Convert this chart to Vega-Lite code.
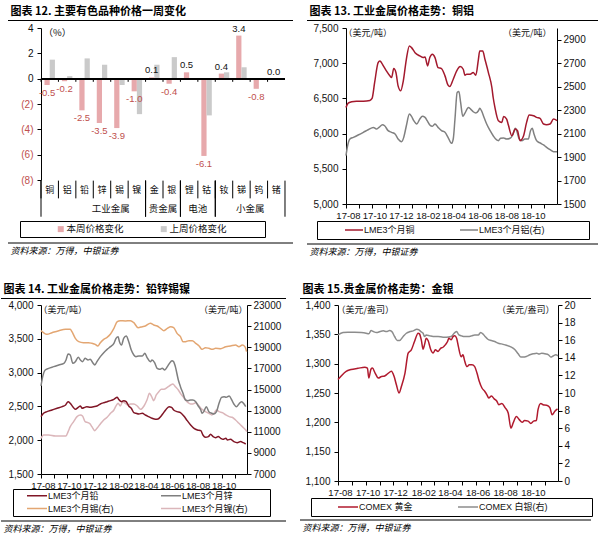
{
"$schema": "https://vega.github.io/schema/vega-lite/v6.json",
"background": "white",
"padding": {"left": 0, "top": 6, "right": 4, "bottom": 2},
"config": {
  "font": "Liberation Sans",
  "view": {"stroke": null},
  "axis": {"labelFont": "Liberation Sans", "labelFontSize": 10, "labelColor": "#111", "domainColor": "#000", "tickColor": "#000", "grid": false, "tickSize": 4, "labelPadding": 4, "labelOverlap": false, "titleFont": "Noto Sans CJK SC", "titleFontWeight": "normal", "titleFontSize": 9, "titleColor": "#111"},
  "legend": {"labelFont": "Liberation Sans, Noto Sans CJK SC, DejaVu Sans", "labelFontSize": 9, "labelColor": "#111", "strokeColor": "#000", "titleFont": "Noto Sans CJK SC", "titleFontSize": 9, "titleOrient": "left"},
  "title": {"font": "Noto Sans CJK SC", "color": "#000"},
  "locale": {"number": {"decimal": ".", "thousands": ",", "grouping": [3], "currency": ["$", ""], "minus": "-"}}
},
"datasets": {
  "p12": [
    {"cat":"铜","series":"本周价格变化","value":-0.5},{"cat":"铜","series":"上周价格变化","value":1.5},
    {"cat":"铝","series":"本周价格变化","value":-0.2},{"cat":"铝","series":"上周价格变化","value":0.2},
    {"cat":"铅","series":"本周价格变化","value":-2.5},{"cat":"铅","series":"上周价格变化","value":1.6},
    {"cat":"锌","series":"本周价格变化","value":-3.5},{"cat":"锌","series":"上周价格变化","value":1.1},
    {"cat":"锡","series":"本周价格变化","value":-3.9},{"cat":"锡","series":"上周价格变化","value":-0.5},
    {"cat":"镍","series":"本周价格变化","value":-1.0},{"cat":"镍","series":"上周价格变化","value":-2.8},
    {"cat":"金","series":"本周价格变化","value":0.1},{"cat":"金","series":"上周价格变化","value":1.1},
    {"cat":"银","series":"本周价格变化","value":-0.4},{"cat":"银","series":"上周价格变化","value":1.7},
    {"cat":"锂","series":"本周价格变化","value":0.5},{"cat":"锂","series":"上周价格变化","value":0.0},
    {"cat":"钴","series":"本周价格变化","value":-6.1},{"cat":"钴","series":"上周价格变化","value":-2.9},
    {"cat":"钕","series":"本周价格变化","value":0.4},{"cat":"钕","series":"上周价格变化","value":0.5},
    {"cat":"锑","series":"本周价格变化","value":3.4},{"cat":"锑","series":"上周价格变化","value":0.9},
    {"cat":"钨","series":"本周价格变化","value":-0.8},{"cat":"钨","series":"上周价格变化","value":-0.1},
    {"cat":"锗","series":"本周价格变化","value":0.0},{"cat":"锗","series":"上周价格变化","value":0.0}
  ],
  "grp": [
    {"group":"工业金属","first":"铜","last":"镍","mid":"锡"},
    {"group":"贵金属","first":"金","last":"银","mid":"银"},
    {"group":"电池","first":"锂","last":"钴","mid":"钴"},
    {"group":"小金属","first":"钕","last":"锗","mid":"钨"}
  ],
  "p13": [
    {"d":"2017-08-01","s":"LME3个月铜","v":6372},{"d":"2017-08-06","s":"LME3个月铜","v":6433},{"d":"2017-08-14","s":"LME3个月铜","v":6452},{"d":"2017-08-25","s":"LME3个月铜","v":6461},{"d":"2017-09-10","s":"LME3个月铜","v":6461},{"d":"2017-09-25","s":"LME3个月铜","v":6471},{"d":"2017-09-30","s":"LME3个月铜","v":6499},{"d":"2017-10-06","s":"LME3个月铜","v":6726},{"d":"2017-10-14","s":"LME3个月铜","v":7009},{"d":"2017-10-18","s":"LME3个月铜","v":7032},{"d":"2017-10-26","s":"LME3个月铜","v":6962},{"d":"2017-11-02","s":"LME3个月铜","v":6891},{"d":"2017-11-10","s":"LME3个月铜","v":6820},{"d":"2017-11-14","s":"LME3个月铜","v":6796},{"d":"2017-11-19","s":"LME3个月铜","v":6924},{"d":"2017-11-24","s":"LME3个月铜","v":6867},{"d":"2017-11-29","s":"LME3个月铜","v":6678},{"d":"2017-12-05","s":"LME3个月铜","v":6608},{"d":"2017-12-11","s":"LME3个月铜","v":6749},{"d":"2017-12-18","s":"LME3个月铜","v":7056},{"d":"2017-12-25","s":"LME3个月铜","v":7245},{"d":"2017-12-30","s":"LME3个月铜","v":7221},{"d":"2018-01-07","s":"LME3个月铜","v":7150},{"d":"2018-01-18","s":"LME3个月铜","v":7103},{"d":"2018-01-26","s":"LME3个月铜","v":7080},{"d":"2018-01-30","s":"LME3个月铜","v":7089},{"d":"2018-02-05","s":"LME3个月铜","v":6962},{"d":"2018-02-10","s":"LME3个月铜","v":7080},{"d":"2018-02-16","s":"LME3个月铜","v":7127},{"d":"2018-02-22","s":"LME3个月铜","v":7080},{"d":"2018-03-01","s":"LME3个月铜","v":6938},{"d":"2018-03-09","s":"LME3个月铜","v":6924},{"d":"2018-03-17","s":"LME3个月铜","v":6820},{"d":"2018-03-24","s":"LME3个月铜","v":6688},{"d":"2018-03-28","s":"LME3个月铜","v":6669},{"d":"2018-04-05","s":"LME3个月铜","v":6773},{"d":"2018-04-13","s":"LME3个月铜","v":6891},{"d":"2018-04-21","s":"LME3个月铜","v":6952},{"d":"2018-04-28","s":"LME3个月铜","v":6914},{"d":"2018-05-02","s":"LME3个月铜","v":6829},{"d":"2018-05-06","s":"LME3个月铜","v":6844},{"d":"2018-05-14","s":"LME3个月铜","v":6844},{"d":"2018-05-21","s":"LME3个月铜","v":6867},{"d":"2018-05-27","s":"LME3个月铜","v":6829},{"d":"2018-06-02","s":"LME3个月铜","v":7056},{"d":"2018-06-05","s":"LME3个月铜","v":7174},{"d":"2018-06-12","s":"LME3个月铜","v":7174},{"d":"2018-06-17","s":"LME3个月铜","v":7056},{"d":"2018-06-25","s":"LME3个月铜","v":6867},{"d":"2018-07-03","s":"LME3个月铜","v":6655},{"d":"2018-07-06","s":"LME3个月铜","v":6513},{"d":"2018-07-10","s":"LME3个月铜","v":6372},{"d":"2018-07-18","s":"LME3个月铜","v":6183},{"d":"2018-07-26","s":"LME3个月铜","v":6159},{"d":"2018-07-30","s":"LME3个月铜","v":6244},{"d":"2018-08-06","s":"LME3个月铜","v":6206},{"d":"2018-08-10","s":"LME3个月铜","v":6121},{"d":"2018-08-18","s":"LME3个月铜","v":5970},{"d":"2018-08-26","s":"LME3个月铜","v":6065},{"d":"2018-08-31","s":"LME3个月铜","v":6041},{"d":"2018-09-06","s":"LME3个月铜","v":5900},{"d":"2018-09-14","s":"LME3个月铜","v":5970},{"d":"2018-09-21","s":"LME3个月铜","v":6159},{"d":"2018-09-27","s":"LME3个月铜","v":6263},{"d":"2018-10-07","s":"LME3个月铜","v":6254},{"d":"2018-10-14","s":"LME3个月铜","v":6230},{"d":"2018-10-22","s":"LME3个月铜","v":6216},{"d":"2018-10-30","s":"LME3个月铜","v":6136},{"d":"2018-11-06","s":"LME3个月铜","v":6126},{"d":"2018-11-14","s":"LME3个月铜","v":6136},{"d":"2018-11-22","s":"LME3个月铜","v":6206},{"d":"2018-11-30","s":"LME3个月铜","v":6183},
    {"d":"2017-08-01","s":"LME3个月铝(右)","v":1913},{"d":"2017-08-04","s":"LME3个月铝(右)","v":1983},{"d":"2017-08-10","s":"LME3个月铝(右)","v":2054},{"d":"2017-08-18","s":"LME3个月铝(右)","v":2068},{"d":"2017-08-29","s":"LME3个月铝(右)","v":2088},{"d":"2017-09-10","s":"LME3个月铝(右)","v":2111},{"d":"2017-09-21","s":"LME3个月铝(右)","v":2133},{"d":"2017-10-03","s":"LME3个月铝(右)","v":2153},{"d":"2017-10-10","s":"LME3个月铝(右)","v":2139},{"d":"2017-10-16","s":"LME3个月铝(右)","v":2153},{"d":"2017-10-24","s":"LME3个月铝(右)","v":2176},{"d":"2017-10-29","s":"LME3个月铝(右)","v":2167},{"d":"2017-11-06","s":"LME3个月铝(右)","v":2125},{"d":"2017-11-14","s":"LME3个月铝(右)","v":2111},{"d":"2017-11-22","s":"LME3个月铝(右)","v":2097},{"d":"2017-11-29","s":"LME3个月铝(右)","v":2054},{"d":"2017-12-07","s":"LME3个月铝(右)","v":2031},{"d":"2017-12-12","s":"LME3个月铝(右)","v":2068},{"d":"2017-12-18","s":"LME3个月铝(右)","v":2167},{"d":"2017-12-25","s":"LME3个月铝(右)","v":2267},{"d":"2017-12-30","s":"LME3个月铝(右)","v":2247},{"d":"2018-01-04","s":"LME3个月铝(右)","v":2210},{"d":"2018-01-11","s":"LME3个月铝(右)","v":2182},{"d":"2018-01-18","s":"LME3个月铝(右)","v":2224},{"d":"2018-01-24","s":"LME3个月铝(右)","v":2247},{"d":"2018-01-30","s":"LME3个月铝(右)","v":2238},{"d":"2018-02-04","s":"LME3个月铝(右)","v":2210},{"d":"2018-02-10","s":"LME3个月铝(右)","v":2173},{"d":"2018-02-16","s":"LME3个月铝(右)","v":2162},{"d":"2018-02-22","s":"LME3个月铝(右)","v":2182},{"d":"2018-03-01","s":"LME3个月铝(右)","v":2153},{"d":"2018-03-09","s":"LME3个月铝(右)","v":2125},{"d":"2018-03-17","s":"LME3个月铝(右)","v":2111},{"d":"2018-03-24","s":"LME3个月铝(右)","v":2068},{"d":"2018-04-01","s":"LME3个月铝(右)","v":2017},{"d":"2018-04-05","s":"LME3个月铝(右)","v":2054},{"d":"2018-04-09","s":"LME3个月铝(右)","v":2224},{"d":"2018-04-14","s":"LME3个月铝(右)","v":2451},{"d":"2018-04-18","s":"LME3个月铝(右)","v":2459},{"d":"2018-04-22","s":"LME3个月铝(右)","v":2366},{"d":"2018-04-27","s":"LME3个月铝(右)","v":2247},{"d":"2018-05-02","s":"LME3个月铝(右)","v":2275},{"d":"2018-05-10","s":"LME3个月铝(右)","v":2323},{"d":"2018-05-15","s":"LME3个月铝(右)","v":2309},{"d":"2018-05-21","s":"LME3个月铝(右)","v":2286},{"d":"2018-05-27","s":"LME3个月铝(右)","v":2275},{"d":"2018-06-02","s":"LME3个月铝(右)","v":2295},{"d":"2018-06-05","s":"LME3个月铝(右)","v":2315},{"d":"2018-06-09","s":"LME3个月铝(右)","v":2295},{"d":"2018-06-15","s":"LME3个月铝(右)","v":2238},{"d":"2018-06-21","s":"LME3个月铝(右)","v":2182},{"d":"2018-06-29","s":"LME3个月铝(右)","v":2125},{"d":"2018-07-06","s":"LME3个月铝(右)","v":2082},{"d":"2018-07-14","s":"LME3个月铝(右)","v":2046},{"d":"2018-07-18","s":"LME3个月铝(右)","v":2040},{"d":"2018-07-23","s":"LME3个月铝(右)","v":2060},{"d":"2018-07-30","s":"LME3个月铝(右)","v":2063},{"d":"2018-08-06","s":"LME3个月铝(右)","v":2054},{"d":"2018-08-14","s":"LME3个月铝(右)","v":2060},{"d":"2018-08-20","s":"LME3个月铝(右)","v":2088},{"d":"2018-08-26","s":"LME3个月铝(右)","v":2145},{"d":"2018-08-29","s":"LME3个月铝(右)","v":2125},{"d":"2018-09-04","s":"LME3个月铝(右)","v":2054},{"d":"2018-09-10","s":"LME3个月铝(右)","v":2040},{"d":"2018-09-17","s":"LME3个月铝(右)","v":2054},{"d":"2018-09-25","s":"LME3个月铝(右)","v":2054},{"d":"2018-09-30","s":"LME3个月铝(右)","v":2125},{"d":"2018-10-04","s":"LME3个月铝(右)","v":2145},{"d":"2018-10-08","s":"LME3个月铝(右)","v":2097},{"d":"2018-10-14","s":"LME3个月铝(右)","v":2040},{"d":"2018-10-22","s":"LME3个月铝(右)","v":2020},{"d":"2018-10-30","s":"LME3个月铝(右)","v":2003},{"d":"2018-11-06","s":"LME3个月铝(右)","v":1983},{"d":"2018-11-14","s":"LME3个月铝(右)","v":1963},{"d":"2018-11-22","s":"LME3个月铝(右)","v":1946},{"d":"2018-11-30","s":"LME3个月铝(右)","v":1946}
  ],
  "p14": [
    {"d":"2017-08-01","s":"LME3个月铅","v":2348},{"d":"2017-08-07","s":"LME3个月铅","v":2398},{"d":"2017-08-15","s":"LME3个月铅","v":2422},{"d":"2017-08-27","s":"LME3个月铅","v":2447},{"d":"2017-09-08","s":"LME3个月铅","v":2472},{"d":"2017-09-20","s":"LME3个月铅","v":2496},{"d":"2017-09-28","s":"LME3个月铅","v":2521},{"d":"2017-10-04","s":"LME3个月铅","v":2570},{"d":"2017-10-09","s":"LME3个月铅","v":2546},{"d":"2017-10-15","s":"LME3个月铅","v":2496},{"d":"2017-10-21","s":"LME3个月铅","v":2457},{"d":"2017-10-28","s":"LME3个月铅","v":2486},{"d":"2017-11-02","s":"LME3个月铅","v":2506},{"d":"2017-11-06","s":"LME3个月铅","v":2472},{"d":"2017-11-12","s":"LME3个月铅","v":2486},{"d":"2017-11-17","s":"LME3个月铅","v":2496},{"d":"2017-11-25","s":"LME3个月铅","v":2486},{"d":"2017-12-03","s":"LME3个月铅","v":2496},{"d":"2017-12-11","s":"LME3个月铅","v":2506},{"d":"2017-12-19","s":"LME3个月铅","v":2536},{"d":"2017-12-27","s":"LME3个月铅","v":2555},{"d":"2018-01-04","s":"LME3个月铅","v":2570},{"d":"2018-01-12","s":"LME3个月铅","v":2585},{"d":"2018-01-20","s":"LME3个月铅","v":2605},{"d":"2018-01-28","s":"LME3个月铅","v":2634},{"d":"2018-01-31","s":"LME3个月铅","v":2605},{"d":"2018-02-07","s":"LME3个月铅","v":2570},{"d":"2018-02-12","s":"LME3个月铅","v":2585},{"d":"2018-02-18","s":"LME3个月铅","v":2570},{"d":"2018-02-24","s":"LME3个月铅","v":2506},{"d":"2018-03-02","s":"LME3个月铅","v":2472},{"d":"2018-03-08","s":"LME3个月铅","v":2408},{"d":"2018-03-13","s":"LME3个月铅","v":2398},{"d":"2018-03-20","s":"LME3个月铅","v":2388},{"d":"2018-03-28","s":"LME3个月铅","v":2398},{"d":"2018-04-04","s":"LME3个月铅","v":2373},{"d":"2018-04-12","s":"LME3个月铅","v":2348},{"d":"2018-04-20","s":"LME3个月铅","v":2324},{"d":"2018-04-28","s":"LME3个月铅","v":2309},{"d":"2018-05-04","s":"LME3个月铅","v":2314},{"d":"2018-05-10","s":"LME3个月铅","v":2348},{"d":"2018-05-15","s":"LME3个月铅","v":2388},{"d":"2018-05-22","s":"LME3个月铅","v":2447},{"d":"2018-05-30","s":"LME3个月铅","v":2496},{"d":"2018-06-05","s":"LME3个月铅","v":2486},{"d":"2018-06-10","s":"LME3个月铅","v":2447},{"d":"2018-06-18","s":"LME3个月铅","v":2422},{"d":"2018-06-26","s":"LME3个月铅","v":2408},{"d":"2018-07-04","s":"LME3个月铅","v":2358},{"d":"2018-07-12","s":"LME3个月铅","v":2289},{"d":"2018-07-20","s":"LME3个月铅","v":2225},{"d":"2018-07-28","s":"LME3个月铅","v":2176},{"d":"2018-08-05","s":"LME3个月铅","v":2151},{"d":"2018-08-13","s":"LME3个月铅","v":2141},{"d":"2018-08-18","s":"LME3个月铅","v":2077},{"d":"2018-08-24","s":"LME3个月铅","v":2043},{"d":"2018-08-31","s":"LME3个月铅","v":2053},{"d":"2018-09-05","s":"LME3个月铅","v":2087},{"d":"2018-09-11","s":"LME3个月铅","v":2053},{"d":"2018-09-17","s":"LME3个月铅","v":2038},{"d":"2018-09-23","s":"LME3个月铅","v":2053},{"d":"2018-09-29","s":"LME3个月铅","v":2028},{"d":"2018-10-04","s":"LME3个月铅","v":2013},{"d":"2018-10-11","s":"LME3个月铅","v":2028},{"d":"2018-10-15","s":"LME3个月铅","v":2003},{"d":"2018-10-22","s":"LME3个月铅","v":2013},{"d":"2018-10-30","s":"LME3个月铅","v":1979},{"d":"2018-11-07","s":"LME3个月铅","v":1964},{"d":"2018-11-15","s":"LME3个月铅","v":1979},{"d":"2018-11-21","s":"LME3个月铅","v":1964},{"d":"2018-11-27","s":"LME3个月铅","v":1944},
    {"d":"2017-08-01","s":"LME3个月锌","v":2802},{"d":"2017-08-05","s":"LME3个月锌","v":2940},{"d":"2017-08-11","s":"LME3个月锌","v":3039},{"d":"2017-08-19","s":"LME3个月锌","v":3063},{"d":"2017-08-31","s":"LME3个月锌","v":3088},{"d":"2017-09-12","s":"LME3个月锌","v":3113},{"d":"2017-09-24","s":"LME3个月锌","v":3137},{"d":"2017-09-29","s":"LME3个月锌","v":3187},{"d":"2017-10-04","s":"LME3个月锌","v":3275},{"d":"2017-10-09","s":"LME3个月锌","v":3261},{"d":"2017-10-15","s":"LME3个月锌","v":3137},{"d":"2017-10-21","s":"LME3个月锌","v":3162},{"d":"2017-10-28","s":"LME3个月锌","v":3226},{"d":"2017-11-02","s":"LME3个月锌","v":3187},{"d":"2017-11-07","s":"LME3个月锌","v":3162},{"d":"2017-11-13","s":"LME3个月锌","v":3211},{"d":"2017-11-20","s":"LME3个月锌","v":3187},{"d":"2017-11-25","s":"LME3个月锌","v":3196},{"d":"2017-12-01","s":"LME3个月锌","v":3147},{"d":"2017-12-06","s":"LME3个月锌","v":3113},{"d":"2017-12-11","s":"LME3个月锌","v":3162},{"d":"2017-12-19","s":"LME3个月锌","v":3236},{"d":"2017-12-27","s":"LME3个月锌","v":3295},{"d":"2018-01-04","s":"LME3个月锌","v":3344},{"d":"2018-01-12","s":"LME3个月锌","v":3384},{"d":"2018-01-20","s":"LME3个月锌","v":3433},{"d":"2018-01-25","s":"LME3个月锌","v":3507},{"d":"2018-01-30","s":"LME3个月锌","v":3532},{"d":"2018-02-02","s":"LME3个月锌","v":3458},{"d":"2018-02-07","s":"LME3个月锌","v":3408},{"d":"2018-02-12","s":"LME3个月锌","v":3507},{"d":"2018-02-18","s":"LME3个月锌","v":3542},{"d":"2018-02-24","s":"LME3个月锌","v":3458},{"d":"2018-03-02","s":"LME3个月锌","v":3334},{"d":"2018-03-08","s":"LME3个月锌","v":3261},{"d":"2018-03-13","s":"LME3个月锌","v":3236},{"d":"2018-03-20","s":"LME3个月锌","v":3246},{"d":"2018-03-28","s":"LME3个月锌","v":3246},{"d":"2018-04-03","s":"LME3个月锌","v":3285},{"d":"2018-04-08","s":"LME3个月锌","v":3226},{"d":"2018-04-16","s":"LME3个月锌","v":3162},{"d":"2018-04-20","s":"LME3个月锌","v":3187},{"d":"2018-04-26","s":"LME3个月锌","v":3147},{"d":"2018-05-02","s":"LME3个月锌","v":3063},{"d":"2018-05-08","s":"LME3个月锌","v":3049},{"d":"2018-05-14","s":"LME3个月锌","v":3063},{"d":"2018-05-20","s":"LME3个月锌","v":3039},{"d":"2018-05-26","s":"LME3个月锌","v":3088},{"d":"2018-05-31","s":"LME3个月锌","v":3137},{"d":"2018-06-06","s":"LME3个月锌","v":3177},{"d":"2018-06-10","s":"LME3个月锌","v":3162},{"d":"2018-06-14","s":"LME3个月锌","v":3088},{"d":"2018-06-21","s":"LME3个月锌","v":2891},{"d":"2018-06-26","s":"LME3个月锌","v":2792},{"d":"2018-07-02","s":"LME3个月锌","v":2694},{"d":"2018-07-08","s":"LME3个月锌","v":2595},{"d":"2018-07-14","s":"LME3个月锌","v":2585},{"d":"2018-07-20","s":"LME3个月锌","v":2595},{"d":"2018-07-25","s":"LME3个月锌","v":2595},{"d":"2018-08-01","s":"LME3个月锌","v":2570},{"d":"2018-08-07","s":"LME3个月锌","v":2506},{"d":"2018-08-13","s":"LME3个月锌","v":2447},{"d":"2018-08-16","s":"LME3个月锌","v":2398},{"d":"2018-08-20","s":"LME3个月锌","v":2422},{"d":"2018-08-26","s":"LME3个月锌","v":2496},{"d":"2018-09-01","s":"LME3个月锌","v":2422},{"d":"2018-09-08","s":"LME3个月锌","v":2398},{"d":"2018-09-13","s":"LME3个月锌","v":2388},{"d":"2018-09-19","s":"LME3个月锌","v":2422},{"d":"2018-09-25","s":"LME3个月锌","v":2546},{"d":"2018-10-01","s":"LME3个月锌","v":2634},{"d":"2018-10-07","s":"LME3个月锌","v":2644},{"d":"2018-10-12","s":"LME3个月锌","v":2634},{"d":"2018-10-19","s":"LME3个月锌","v":2654},{"d":"2018-10-25","s":"LME3个月锌","v":2595},{"d":"2018-10-30","s":"LME3个月锌","v":2536},{"d":"2018-11-05","s":"LME3个月锌","v":2496},{"d":"2018-11-11","s":"LME3个月锌","v":2536},{"d":"2018-11-17","s":"LME3个月锌","v":2570},{"d":"2018-11-23","s":"LME3个月锌","v":2536},{"d":"2018-11-27","s":"LME3个月锌","v":2496},
    {"d":"2017-08-01","s":"LME3个月锡(右)","v":20571},{"d":"2017-08-07","s":"LME3个月锡(右)","v":20381},{"d":"2017-08-15","s":"LME3个月锡(右)","v":20224},{"d":"2017-08-27","s":"LME3个月锡(右)","v":20381},{"d":"2017-09-12","s":"LME3个月锡(右)","v":20571},{"d":"2017-09-28","s":"LME3个月锡(右)","v":20697},{"d":"2017-10-09","s":"LME3个月锡(右)","v":20697},{"d":"2017-10-13","s":"LME3个月锡(右)","v":20476},{"d":"2017-10-21","s":"LME3个月锡(右)","v":19845},{"d":"2017-10-29","s":"LME3个月锡(右)","v":19530},{"d":"2017-11-09","s":"LME3个月锡(右)","v":19435},{"d":"2017-11-21","s":"LME3个月锡(右)","v":19435},{"d":"2017-11-29","s":"LME3个月锡(右)","v":19372},{"d":"2017-12-07","s":"LME3个月锡(右)","v":19277},{"d":"2017-12-13","s":"LME3个月锡(右)","v":19119},{"d":"2017-12-19","s":"LME3个月锡(右)","v":19435},{"d":"2017-12-27","s":"LME3个月锡(右)","v":19750},{"d":"2018-01-04","s":"LME3个月锡(右)","v":19940},{"d":"2018-01-12","s":"LME3个月锡(右)","v":20255},{"d":"2018-01-20","s":"LME3个月锡(右)","v":20792},{"d":"2018-01-28","s":"LME3个月锡(右)","v":21423},{"d":"2018-02-04","s":"LME3个月锡(右)","v":21517},{"d":"2018-02-16","s":"LME3个月锡(右)","v":21486},{"d":"2018-02-28","s":"LME3个月锡(右)","v":21517},{"d":"2018-03-08","s":"LME3个月锡(右)","v":21328},{"d":"2018-03-18","s":"LME3个月锡(右)","v":20855},{"d":"2018-03-28","s":"LME3个月锡(右)","v":20949},{"d":"2018-04-04","s":"LME3个月锡(右)","v":21012},{"d":"2018-04-16","s":"LME3个月锡(右)","v":21265},{"d":"2018-04-24","s":"LME3个月锡(右)","v":21107},{"d":"2018-05-02","s":"LME3个月锡(右)","v":21012},{"d":"2018-05-10","s":"LME3个月锡(右)","v":20792},{"d":"2018-05-18","s":"LME3个月锡(右)","v":20571},{"d":"2018-05-26","s":"LME3个月锡(右)","v":20792},{"d":"2018-06-03","s":"LME3个月锡(右)","v":20949},{"d":"2018-06-10","s":"LME3个月锡(右)","v":20855},{"d":"2018-06-18","s":"LME3个月锡(右)","v":20318},{"d":"2018-06-26","s":"LME3个月锡(右)","v":20003},{"d":"2018-07-02","s":"LME3个月锡(右)","v":19530},{"d":"2018-07-08","s":"LME3个月锡(右)","v":19530},{"d":"2018-07-16","s":"LME3个月锡(右)","v":19624},{"d":"2018-07-24","s":"LME3个月锡(右)","v":19624},{"d":"2018-08-01","s":"LME3个月锡(右)","v":19372},{"d":"2018-08-09","s":"LME3个月锡(右)","v":19119},{"d":"2018-08-16","s":"LME3个月锡(右)","v":18804},{"d":"2018-08-24","s":"LME3个月锡(右)","v":18962},{"d":"2018-09-01","s":"LME3个月锡(右)","v":18899},{"d":"2018-09-09","s":"LME3个月锡(右)","v":18804},{"d":"2018-09-17","s":"LME3个月锡(右)","v":18899},{"d":"2018-09-29","s":"LME3个月锡(右)","v":18867},{"d":"2018-10-11","s":"LME3个月锡(右)","v":19056},{"d":"2018-10-22","s":"LME3个月锡(右)","v":19119},{"d":"2018-11-03","s":"LME3个月锡(右)","v":19214},{"d":"2018-11-11","s":"LME3个月锡(右)","v":19056},{"d":"2018-11-19","s":"LME3个月锡(右)","v":19214},{"d":"2018-11-25","s":"LME3个月锡(右)","v":19056},{"d":"2018-11-29","s":"LME3个月锡(右)","v":18583},
    {"d":"2017-08-01","s":"LME3个月镍(右)","v":10380},{"d":"2017-08-07","s":"LME3个月镍(右)","v":10696},{"d":"2017-08-19","s":"LME3个月镍(右)","v":10696},{"d":"2017-09-04","s":"LME3个月镍(右)","v":10601},{"d":"2017-09-20","s":"LME3个月镍(右)","v":10601},{"d":"2017-09-29","s":"LME3个月镍(右)","v":10601},{"d":"2017-10-04","s":"LME3个月镍(右)","v":11011},{"d":"2017-10-09","s":"LME3个月镍(右)","v":11484},{"d":"2017-10-17","s":"LME3个月镍(右)","v":11958},{"d":"2017-10-25","s":"LME3个月镍(右)","v":12431},{"d":"2017-11-02","s":"LME3个月镍(右)","v":12589},{"d":"2017-11-07","s":"LME3个月镍(右)","v":12494},{"d":"2017-11-13","s":"LME3个月镍(右)","v":11958},{"d":"2017-11-20","s":"LME3个月镍(右)","v":11863},{"d":"2017-11-25","s":"LME3个月镍(右)","v":11737},{"d":"2017-11-29","s":"LME3个月镍(右)","v":11484},{"d":"2017-12-06","s":"LME3个月镍(右)","v":11106},{"d":"2017-12-11","s":"LME3个月镍(右)","v":11327},{"d":"2017-12-19","s":"LME3个月镍(右)","v":11737},{"d":"2017-12-27","s":"LME3个月镍(右)","v":12115},{"d":"2018-01-04","s":"LME3个月镍(右)","v":12368},{"d":"2018-01-12","s":"LME3个月镍(右)","v":12746},{"d":"2018-01-20","s":"LME3个月镍(右)","v":13062},{"d":"2018-01-25","s":"LME3个月镍(右)","v":13441},{"d":"2018-01-30","s":"LME3个月镍(右)","v":13693},{"d":"2018-02-04","s":"LME3个月镍(右)","v":13441},{"d":"2018-02-10","s":"LME3个月镍(右)","v":13851},{"d":"2018-02-16","s":"LME3个月镍(右)","v":13693},{"d":"2018-02-22","s":"LME3个月镍(右)","v":13535},{"d":"2018-02-28","s":"LME3个月镍(右)","v":13630},{"d":"2018-03-08","s":"LME3个月镍(右)","v":13630},{"d":"2018-03-16","s":"LME3个月镍(右)","v":13441},{"d":"2018-03-24","s":"LME3个月镍(右)","v":13125},{"d":"2018-04-01","s":"LME3个月镍(右)","v":13441},{"d":"2018-04-08","s":"LME3个月镍(右)","v":14008},{"d":"2018-04-14","s":"LME3个月镍(右)","v":14639},{"d":"2018-04-19","s":"LME3个月镍(右)","v":14324},{"d":"2018-04-24","s":"LME3个月镍(右)","v":13945},{"d":"2018-04-30","s":"LME3个月镍(右)","v":14482},{"d":"2018-05-06","s":"LME3个月镍(右)","v":14797},{"d":"2018-05-12","s":"LME3个月镍(右)","v":15018},{"d":"2018-05-18","s":"LME3个月镍(右)","v":15018},{"d":"2018-05-26","s":"LME3个月镍(右)","v":15207},{"d":"2018-06-03","s":"LME3个月镍(右)","v":15428},{"d":"2018-06-08","s":"LME3个月镍(右)","v":15523},{"d":"2018-06-14","s":"LME3个月镍(右)","v":15270},{"d":"2018-06-21","s":"LME3个月镍(右)","v":14955},{"d":"2018-06-26","s":"LME3个月镍(右)","v":14639},{"d":"2018-07-02","s":"LME3个月镍(右)","v":14324},{"d":"2018-07-08","s":"LME3个月镍(右)","v":14008},{"d":"2018-07-14","s":"LME3个月镍(右)","v":13756},{"d":"2018-07-20","s":"LME3个月镍(右)","v":13630},{"d":"2018-07-25","s":"LME3个月镍(右)","v":13630},{"d":"2018-08-01","s":"LME3个月镍(右)","v":13756},{"d":"2018-08-07","s":"LME3个月镍(右)","v":13535},{"d":"2018-08-13","s":"LME3个月镍(右)","v":13220},{"d":"2018-08-18","s":"LME3个月镍(右)","v":13062},{"d":"2018-08-24","s":"LME3个月镍(右)","v":12904},{"d":"2018-09-01","s":"LME3个月镍(右)","v":12746},{"d":"2018-09-08","s":"LME3个月镍(右)","v":12589},{"d":"2018-09-13","s":"LME3个月镍(右)","v":12746},{"d":"2018-09-19","s":"LME3个月镍(右)","v":13062},{"d":"2018-09-25","s":"LME3个月镍(右)","v":12904},{"d":"2018-10-03","s":"LME3个月镍(右)","v":12810},{"d":"2018-10-11","s":"LME3个月镍(右)","v":12589},{"d":"2018-10-19","s":"LME3个月镍(右)","v":12431},{"d":"2018-10-26","s":"LME3个月镍(右)","v":12368},{"d":"2018-11-03","s":"LME3个月镍(右)","v":12115},{"d":"2018-11-11","s":"LME3个月镍(右)","v":11800},{"d":"2018-11-19","s":"LME3个月镍(右)","v":11484},{"d":"2018-11-27","s":"LME3个月镍(右)","v":11169},{"d":"2018-11-30","s":"LME3个月镍(右)","v":11011}
  ],
  "p15": [
    {"d":"2017-08-01","s":"COMEX 黄金","v":1273},{"d":"2017-08-08","s":"COMEX 黄金","v":1279},{"d":"2017-08-19","s":"COMEX 黄金","v":1287},{"d":"2017-08-30","s":"COMEX 黄金","v":1290},{"d":"2017-09-14","s":"COMEX 黄金","v":1292},{"d":"2017-09-29","s":"COMEX 黄金","v":1294},{"d":"2017-10-05","s":"COMEX 黄金","v":1292.5},{"d":"2017-10-08","s":"COMEX 黄金","v":1275.5},{"d":"2017-10-13","s":"COMEX 黄金","v":1291},{"d":"2017-10-16","s":"COMEX 黄金","v":1292.5},{"d":"2017-10-22","s":"COMEX 黄金","v":1284},{"d":"2017-10-29","s":"COMEX 黄金","v":1275.5},{"d":"2017-11-05","s":"COMEX 黄金","v":1278},{"d":"2017-11-12","s":"COMEX 黄金","v":1279},{"d":"2017-11-19","s":"COMEX 黄金","v":1283},{"d":"2017-11-27","s":"COMEX 黄金","v":1287},{"d":"2017-12-03","s":"COMEX 黄金","v":1278},{"d":"2017-12-08","s":"COMEX 黄金","v":1264},{"d":"2017-12-14","s":"COMEX 黄金","v":1250},{"d":"2017-12-19","s":"COMEX 黄金","v":1261},{"d":"2017-12-27","s":"COMEX 黄金","v":1284},{"d":"2018-01-03","s":"COMEX 黄金","v":1318},{"d":"2018-01-10","s":"COMEX 黄金","v":1323.6},{"d":"2018-01-17","s":"COMEX 黄金","v":1337.7},{"d":"2018-01-25","s":"COMEX 黄金","v":1352},{"d":"2018-01-28","s":"COMEX 黄金","v":1350.8},{"d":"2018-02-01","s":"COMEX 黄金","v":1340.6},{"d":"2018-02-05","s":"COMEX 黄金","v":1324.7},{"d":"2018-02-08","s":"COMEX 黄金","v":1332},{"d":"2018-02-12","s":"COMEX 黄金","v":1343.4},{"d":"2018-02-16","s":"COMEX 黄金","v":1339.4},{"d":"2018-02-22","s":"COMEX 黄金","v":1323.6},{"d":"2018-02-27","s":"COMEX 黄金","v":1318},{"d":"2018-03-04","s":"COMEX 黄金","v":1323.6},{"d":"2018-03-10","s":"COMEX 黄金","v":1320.8},{"d":"2018-03-16","s":"COMEX 黄金","v":1326.4},{"d":"2018-03-21","s":"COMEX 黄金","v":1328},{"d":"2018-03-26","s":"COMEX 黄金","v":1332},{"d":"2018-03-31","s":"COMEX 黄金","v":1337.7},{"d":"2018-04-03","s":"COMEX 黄金","v":1343.4},{"d":"2018-04-08","s":"COMEX 黄金","v":1340.6},{"d":"2018-04-12","s":"COMEX 黄金","v":1346},{"d":"2018-04-16","s":"COMEX 黄金","v":1347.4},{"d":"2018-04-20","s":"COMEX 黄金","v":1343.4},{"d":"2018-04-24","s":"COMEX 黄金","v":1329},{"d":"2018-04-30","s":"COMEX 黄金","v":1312},{"d":"2018-05-04","s":"COMEX 黄金","v":1315},{"d":"2018-05-08","s":"COMEX 黄金","v":1304},{"d":"2018-05-13","s":"COMEX 黄金","v":1295},{"d":"2018-05-18","s":"COMEX 黄金","v":1298},{"d":"2018-05-24","s":"COMEX 黄金","v":1298},{"d":"2018-05-30","s":"COMEX 黄金","v":1295},{"d":"2018-06-04","s":"COMEX 黄金","v":1284},{"d":"2018-06-09","s":"COMEX 黄金","v":1270},{"d":"2018-06-15","s":"COMEX 黄金","v":1258.5},{"d":"2018-06-21","s":"COMEX 黄金","v":1253},{"d":"2018-06-26","s":"COMEX 黄金","v":1247},{"d":"2018-06-30","s":"COMEX 黄金","v":1241.5},{"d":"2018-07-06","s":"COMEX 黄金","v":1245},{"d":"2018-07-12","s":"COMEX 黄金","v":1240},{"d":"2018-07-18","s":"COMEX 黄金","v":1236},{"d":"2018-07-22","s":"COMEX 黄金","v":1230},{"d":"2018-07-29","s":"COMEX 黄金","v":1232},{"d":"2018-08-05","s":"COMEX 黄金","v":1225},{"d":"2018-08-12","s":"COMEX 黄金","v":1216},{"d":"2018-08-18","s":"COMEX 黄金","v":1190},{"d":"2018-08-23","s":"COMEX 黄金","v":1199},{"d":"2018-08-30","s":"COMEX 黄金","v":1210},{"d":"2018-09-05","s":"COMEX 黄金","v":1205},{"d":"2018-09-12","s":"COMEX 黄金","v":1200},{"d":"2018-09-17","s":"COMEX 黄金","v":1203},{"d":"2018-09-25","s":"COMEX 黄金","v":1202},{"d":"2018-10-01","s":"COMEX 黄金","v":1198},{"d":"2018-10-07","s":"COMEX 黄金","v":1202},{"d":"2018-10-13","s":"COMEX 黄金","v":1203},{"d":"2018-10-17","s":"COMEX 黄金","v":1222},{"d":"2018-10-23","s":"COMEX 黄金","v":1232},{"d":"2018-10-28","s":"COMEX 黄金","v":1230},{"d":"2018-11-05","s":"COMEX 黄金","v":1229},{"d":"2018-11-12","s":"COMEX 黄金","v":1225},{"d":"2018-11-17","s":"COMEX 黄金","v":1213},{"d":"2018-11-23","s":"COMEX 黄金","v":1219},{"d":"2018-11-29","s":"COMEX 黄金","v":1223},
    {"d":"2017-08-01","s":"COMEX 白银(右)","v":16.60},{"d":"2017-08-12","s":"COMEX 白银(右)","v":16.87},{"d":"2017-08-23","s":"COMEX 白银(右)","v":16.91},{"d":"2017-09-07","s":"COMEX 白银(右)","v":16.91},{"d":"2017-09-21","s":"COMEX 白银(右)","v":16.87},{"d":"2017-10-02","s":"COMEX 白银(右)","v":16.79},{"d":"2017-10-08","s":"COMEX 白银(右)","v":16.72},{"d":"2017-10-13","s":"COMEX 白银(右)","v":17.09},{"d":"2017-10-18","s":"COMEX 白银(右)","v":16.98},{"d":"2017-10-25","s":"COMEX 白银(右)","v":16.87},{"d":"2017-11-02","s":"COMEX 白银(右)","v":16.98},{"d":"2017-11-09","s":"COMEX 白银(右)","v":17.06},{"d":"2017-11-16","s":"COMEX 白银(右)","v":16.98},{"d":"2017-11-23","s":"COMEX 白银(右)","v":17.09},{"d":"2017-11-28","s":"COMEX 白银(右)","v":16.98},{"d":"2017-12-04","s":"COMEX 白银(右)","v":16.42},{"d":"2017-12-10","s":"COMEX 白银(右)","v":15.96},{"d":"2017-12-15","s":"COMEX 白银(右)","v":15.96},{"d":"2017-12-23","s":"COMEX 白银(右)","v":16.42},{"d":"2017-12-30","s":"COMEX 白银(右)","v":16.79},{"d":"2018-01-07","s":"COMEX 白银(右)","v":16.98},{"d":"2018-01-14","s":"COMEX 白银(右)","v":17.06},{"d":"2018-01-22","s":"COMEX 白银(右)","v":17.25},{"d":"2018-01-27","s":"COMEX 白银(右)","v":17.17},{"d":"2018-01-31","s":"COMEX 白银(右)","v":16.98},{"d":"2018-02-05","s":"COMEX 白银(右)","v":16.79},{"d":"2018-02-08","s":"COMEX 白银(右)","v":16.42},{"d":"2018-02-12","s":"COMEX 白银(右)","v":16.60},{"d":"2018-02-20","s":"COMEX 白银(右)","v":16.49},{"d":"2018-02-27","s":"COMEX 白银(右)","v":16.42},{"d":"2018-03-10","s":"COMEX 白银(右)","v":16.42},{"d":"2018-03-21","s":"COMEX 白银(右)","v":16.34},{"d":"2018-03-28","s":"COMEX 白银(右)","v":16.34},{"d":"2018-04-08","s":"COMEX 白银(右)","v":16.42},{"d":"2018-04-16","s":"COMEX 白银(右)","v":16.87},{"d":"2018-04-20","s":"COMEX 白银(右)","v":16.98},{"d":"2018-04-25","s":"COMEX 白银(右)","v":16.60},{"d":"2018-05-01","s":"COMEX 白银(右)","v":16.49},{"d":"2018-05-08","s":"COMEX 白银(右)","v":16.42},{"d":"2018-05-15","s":"COMEX 白银(右)","v":16.42},{"d":"2018-05-23","s":"COMEX 白银(右)","v":16.49},{"d":"2018-05-30","s":"COMEX 白银(右)","v":16.60},{"d":"2018-06-07","s":"COMEX 白银(右)","v":16.60},{"d":"2018-06-12","s":"COMEX 白银(右)","v":16.87},{"d":"2018-06-17","s":"COMEX 白银(右)","v":16.72},{"d":"2018-06-22","s":"COMEX 白银(右)","v":16.42},{"d":"2018-06-28","s":"COMEX 白银(右)","v":16.11},{"d":"2018-07-06","s":"COMEX 白银(右)","v":15.96},{"d":"2018-07-13","s":"COMEX 白银(右)","v":15.85},{"d":"2018-07-21","s":"COMEX 白银(右)","v":15.66},{"d":"2018-07-28","s":"COMEX 白银(右)","v":15.58},{"d":"2018-08-05","s":"COMEX 白银(右)","v":15.47},{"d":"2018-08-12","s":"COMEX 白银(右)","v":15.36},{"d":"2018-08-19","s":"COMEX 白银(右)","v":15.21},{"d":"2018-08-27","s":"COMEX 白银(右)","v":14.91},{"d":"2018-09-03","s":"COMEX 白银(右)","v":14.45},{"d":"2018-09-09","s":"COMEX 白银(右)","v":14.08},{"d":"2018-09-14","s":"COMEX 白银(右)","v":14.08},{"d":"2018-09-21","s":"COMEX 白银(右)","v":14.15},{"d":"2018-09-29","s":"COMEX 白银(右)","v":14.34},{"d":"2018-10-06","s":"COMEX 白银(右)","v":14.45},{"d":"2018-10-14","s":"COMEX 白银(右)","v":14.53},{"d":"2018-10-19","s":"COMEX 白银(右)","v":14.42},{"d":"2018-10-25","s":"COMEX 白银(右)","v":14.53},{"d":"2018-11-01","s":"COMEX 白银(右)","v":14.45},{"d":"2018-11-09","s":"COMEX 白银(右)","v":14.34},{"d":"2018-11-14","s":"COMEX 白银(右)","v":14.08},{"d":"2018-11-20","s":"COMEX 白银(右)","v":14.23},{"d":"2018-11-25","s":"COMEX 白银(右)","v":14.34},{"d":"2018-11-30","s":"COMEX 白银(右)","v":14.23}
  ]
},
"spacing": 27,
"resolve": {"scale": {"color": "independent"}, "legend": {"color": "independent"}},
"vconcat": [
 {"resolve": {"scale": {"color": "independent"}, "legend": {"color": "independent"}}, "spacing": 12, "hconcat": [
  {"spacing": 2, "resolve": {"scale": {"color": "independent"}, "legend": {"color": "independent"}}, "vconcat": [
   {"width": 252, "height": 1, "data": {"values": [{}]},
    "title": {"text": "图表 12. 主要有色品种价格一周变化", "anchor": "start", "frame": "bounds", "offset": 3, "fontSize": 11, "fontWeight": "bold", "dx": 3},
    "mark": {"type": "rule", "color": "#000", "strokeWidth": 1},
    "encoding": {"x": {"datum": -33, "type": "quantitative", "scale": {"domain": [0, 252], "nice": false, "zero": false}, "axis": null}, "x2": {"datum": 252}}},
   {"width": 244, "height": 152, "data": {"name": "p12"},
    "resolve": {"axis": {"y": "independent", "x": "independent"}},
    "layer": [
     {"mark": {"type": "bar"},
      "encoding": {
       "x": {"field": "cat", "type": "nominal", "scale": {"domain": ["铜","铝","铅","锌","锡","镍","金","银","锂","钴","钕","锑","钨","锗"], "paddingInner": 0.4, "paddingOuter": 0.2}, "axis": null},
       "xOffset": {"field": "series", "type": "nominal", "scale": {"domain": ["本周价格变化","上周价格变化"]}},
       "y": {"field": "value", "type": "quantitative", "scale": {"domain": [-8, 4], "nice": false, "zero": false},
             "axis": {"values": [-8,-6,-4,-2,0,2,4], "format": "(.0f", "labelOverlap": false, "labelColor": {"condition": {"test": "datum.value < 0", "value": "#c0504d"}, "value": "#111"}, "title": "（%）", "titleAngle": 0, "titleAlign": "left", "titleBaseline": "top", "titleX": 2, "titleY": -1, "titleFontSize": 9.5}},
       "color": {"field": "series", "type": "nominal", "scale": {"domain": ["本周价格变化","上周价格变化"], "range": ["#e7a9ac", "#cacaca"]},
                 "legend": {"orient": "none", "legendX": -21, "legendY": 193, "direction": "horizontal", "title": "　", "titlePadding": 33, "symbolType": "square", "symbolSize": 36, "symbolStrokeWidth": 0, "labelFont": "Noto Sans CJK SC, DejaVu Sans", "labelFontSize": 9.5, "labelOffset": 1, "padding": 3, "columnPadding": 0, "labelExpr": "datum.label + '⠀⠀⠀⠀⠀'"}}
      }},
     {"mark": {"type": "rule", "color": "#000", "strokeWidth": 1}, "encoding": {"y": {"datum": 0, "axis": null}}},
     {"transform": [{"filter": "datum.series == '本周价格变化'"}],
      "mark": {"type": "rule", "color": "#000", "strokeWidth": 1},
      "encoding": {"x": {"field": "cat", "type": "nominal", "bandPosition": -0.3333, "scale": {"domain": ["铜","铝","铅","锌","锡","镍","金","银","锂","钴","钕","锑","钨","锗"]}, "axis": null}, "y": {"datum": 0, "axis": null}, "y2": {"datum": -0.25}}},
     {"transform": [{"filter": "datum.series == '本周价格变化'"}],
      "mark": {"type": "rule", "color": "#000", "strokeWidth": 1},
      "encoding": {"x": {"field": "cat", "type": "nominal", "bandPosition": -0.3333, "scale": {"domain": ["铜","铝","铅","锌","锡","镍","金","银","锂","钴","钕","锑","钨","锗"]}, "axis": null}, "y": {"datum": -8.05, "axis": null}, "y2": {"datum": -9.45}}},
     {"transform": [{"filter": "datum.series == '本周价格变化'"}],
      "mark": {"type": "text", "font": "Noto Sans CJK SC", "fontSize": 9, "baseline": "middle", "color": "#111"},
      "encoding": {"x": {"field": "cat", "type": "nominal", "scale": {"domain": ["铜","铝","铅","锌","锡","镍","金","银","锂","钴","钕","锑","钨","锗"]}, "axis": null}, "y": {"datum": -8.75, "axis": null}, "text": {"field": "cat"}}},
     {"transform": [{"filter": "datum.series == '本周价格变化' && datum.value >= 0"}],
      "mark": {"type": "text", "fontSize": 9.5, "baseline": "middle", "dy": -7, "color": "#111"},
      "encoding": {"x": {"field": "cat", "type": "nominal", "scale": {"domain": ["铜","铝","铅","锌","锡","镍","金","银","锂","钴","钕","锑","钨","锗"]}, "axis": null}, "xOffset": {"field": "series", "type": "nominal", "scale": {"domain": ["本周价格变化","上周价格变化"]}}, "y": {"field": "value", "type": "quantitative", "axis": null}, "text": {"field": "value", "type": "quantitative", "format": ".1f"}}},
     {"transform": [{"filter": "datum.series == '本周价格变化' && datum.value < 0"}],
      "mark": {"type": "text", "fontSize": 9.5, "baseline": "middle", "dy": 8, "color": "#c0504d"},
      "encoding": {"x": {"field": "cat", "type": "nominal", "scale": {"domain": ["铜","铝","铅","锌","锡","镍","金","银","锂","钴","钕","锑","钨","锗"]}, "axis": null}, "xOffset": {"field": "series", "type": "nominal", "scale": {"domain": ["本周价格变化","上周价格变化"]}}, "y": {"field": "value", "type": "quantitative", "axis": null}, "text": {"field": "value", "type": "quantitative", "format": ".1f"}}},
     {"data": {"name": "grp"},
      "mark": {"type": "rule", "color": "#000", "strokeWidth": 1},
      "encoding": {"x": {"field": "first", "type": "nominal", "bandPosition": -0.3333, "scale": {"domain": ["铜","铝","铅","锌","锡","镍","金","银","锂","钴","钕","锑","钨","锗"]}, "axis": null}, "y": {"datum": -8.05, "axis": null}, "y2": {"datum": -10.9}}},
     {"data": {"name": "grp"},
      "mark": {"type": "rule", "color": "#000", "strokeWidth": 1},
      "encoding": {"x": {"field": "last", "type": "nominal", "bandPosition": 1.3333, "scale": {"domain": ["铜","铝","铅","锌","锡","镍","金","银","锂","钴","钕","锑","钨","锗"]}, "axis": null}, "y": {"datum": -8.05, "axis": null}, "y2": {"datum": -10.9}}},
     {"data": {"name": "grp"},
      "mark": {"type": "text", "font": "Noto Sans CJK SC", "fontSize": 9.5, "baseline": "middle", "color": "#111"},
      "encoding": {"x": {"field": "mid", "type": "nominal", "bandPosition": -0.3333, "scale": {"domain": ["铜","铝","铅","锌","锡","镍","金","银","锂","钴","钕","锑","钨","锗"]}, "axis": null}, "y": {"datum": -10.25, "axis": null}, "text": {"field": "group"}}}
    ]},
   {"width": 252, "height": 3, "data": {"values": [{}]},
    "title": {"text": "资料来源：万得，中银证券", "orient": "bottom", "anchor": "start", "frame": "bounds", "offset": 3, "fontSize": 9, "fontStyle": "italic", "fontWeight": "normal", "dx": 3},
    "mark": {"type": "rule", "color": "#000", "strokeWidth": 1},
    "encoding": {"x": {"datum": -33, "type": "quantitative", "scale": {"domain": [0, 252], "nice": false, "zero": false}, "axis": null}, "x2": {"datum": 252}, "y": {"datum": 0, "type": "quantitative", "scale": {"domain": [0, 1]}, "axis": null}}}
  ]},
  {"spacing": 2, "resolve": {"scale": {"color": "independent"}, "legend": {"color": "independent"}}, "vconcat": [
   {"width": 252, "height": 1, "data": {"values": [{}]},
    "title": {"text": "图表 13. 工业金属价格走势：铜铝", "anchor": "start", "frame": "bounds", "offset": 3, "fontSize": 11, "fontWeight": "bold", "dx": 3},
    "mark": {"type": "rule", "color": "#000", "strokeWidth": 1},
    "encoding": {"x": {"datum": -39, "type": "quantitative", "scale": {"domain": [0, 252], "nice": false, "zero": false}, "axis": null}, "x2": {"datum": 252}}},
   {"width": 211, "height": 176, "data": {"name": "p13"},
    "layer": [
     {"transform": [{"filter": "datum.s == 'LME3个月铝(右)'"}],
      "mark": {"type": "line", "strokeWidth": 1.5, "interpolate": "monotone"},
      "encoding": {
       "x": {"field": "d", "type": "temporal", "scale": {"type": "utc", "nice": false, "domain": [{"year": 2017, "month": 8, "date": 1, "utc": true}, {"year": 2018, "month": 11, "date": 30, "utc": true}]},
             "axis": {"tickCount": {"interval": "month", "step": 1}, "labelExpr": "utcmonth(datum.value) % 2 == 1 ? utcFormat(datum.value, '%y-%m') : ''", "labelOffset": 2, "labelFontSize": 9.5, "labelPadding": 2, "title": null, "labelFlush": false, "labelBound": false}},
       "y": {"field": "v", "type": "quantitative", "scale": {"domain": [1500, 3000], "nice": false, "zero": false},
             "axis": {"orient": "right", "values": [1500,1700,1900,2100,2300,2500,2700,2900], "format": "d", "labelPadding": 2, "title": "（美元/吨）", "titleAngle": 0, "titleAlign": "right", "titleBaseline": "top", "titleX": -6, "titleY": 0}},
       "color": {"field": "s", "type": "nominal", "scale": {"domain": ["LME3个月铜", "LME3个月铝(右)"], "range": ["#a3192d", "#808080"]},
                 "legend": {"orient": "none", "legendX": -29, "legendY": 193, "direction": "horizontal", "title": "　", "titlePadding": 23, "symbolType": "stroke", "symbolSize": 324, "symbolStrokeWidth": 1.5, "labelOffset": 0, "padding": 4, "columnPadding": 4, "clipHeight": 9.5, "labelExpr": "datum.label + '⠀⠀⠀⠀⠀⠀'"}}
      }},
     {"transform": [{"filter": "datum.s == 'LME3个月铜'"}],
      "mark": {"type": "line", "strokeWidth": 1.5, "interpolate": "monotone"},
      "encoding": {
       "x": {"field": "d", "type": "temporal"},
       "y": {"field": "v", "type": "quantitative", "scale": {"domain": [5000, 7500], "nice": false, "zero": false},
             "axis": {"orient": "left", "values": [5000,5500,6000,6500,7000,7500], "format": ",.0f", "title": "（美元/吨）", "titleAngle": 0, "titleAlign": "left", "titleBaseline": "top", "titleX": -3, "titleY": 0}},
       "color": {"field": "s", "type": "nominal"}
      }}
    ],
    "resolve": {"scale": {"y": "independent"}}},
   {"width": 252, "height": 2, "data": {"values": [{}]},
    "title": {"text": "资料来源：万得，中银证券", "orient": "bottom", "anchor": "start", "frame": "bounds", "offset": 3, "fontSize": 9, "fontStyle": "italic", "fontWeight": "normal", "dx": 3},
    "mark": {"type": "rule", "color": "#000", "strokeWidth": 1},
    "encoding": {"x": {"datum": -39, "type": "quantitative", "scale": {"domain": [0, 252], "nice": false, "zero": false}, "axis": null}, "x2": {"datum": 252}, "y": {"datum": 0, "type": "quantitative", "scale": {"domain": [0, 1]}, "axis": null}}}
  ]}
 ]},
 {"resolve": {"scale": {"color": "independent"}, "legend": {"color": "independent"}}, "spacing": 12, "hconcat": [
  {"spacing": 1, "resolve": {"scale": {"color": "independent"}, "legend": {"color": "independent"}}, "vconcat": [
   {"width": 245, "height": 1, "data": {"values": [{}]},
    "title": {"text": "图表 14. 工业金属价格走势：铅锌锡镍", "anchor": "start", "frame": "bounds", "offset": 3, "fontSize": 11, "fontWeight": "bold", "dx": 3},
    "mark": {"type": "rule", "color": "#000", "strokeWidth": 1},
    "encoding": {"x": {"datum": -40, "type": "quantitative", "scale": {"domain": [0, 245], "nice": false, "zero": false}, "axis": null}, "x2": {"datum": 245}}},
   {"width": 206, "height": 169, "data": {"name": "p14"},
    "layer": [
     {"transform": [{"filter": "datum.s == 'LME3个月锡(右)' || datum.s == 'LME3个月镍(右)'"}],
      "mark": {"type": "line", "strokeWidth": 1.5, "interpolate": "monotone"},
      "encoding": {
       "x": {"field": "d", "type": "temporal", "scale": {"type": "utc", "nice": false, "domain": [{"year": 2017, "month": 8, "date": 1, "utc": true}, {"year": 2018, "month": 11, "date": 30, "utc": true}]},
             "axis": {"tickCount": {"interval": "month", "step": 1}, "labelExpr": "utcmonth(datum.value) % 2 == 1 ? utcFormat(datum.value, '%y-%m') : ''", "labelOffset": 2, "labelFontSize": 9.5, "labelPadding": 2, "title": null, "labelFlush": false, "labelBound": false}},
       "y": {"field": "v", "type": "quantitative", "scale": {"domain": [7000, 23000], "nice": false, "zero": false},
             "axis": {"orient": "right", "values": [7000,9000,11000,13000,15000,17000,19000,21000,23000], "format": "d", "labelPadding": 2, "title": "（美元/吨）", "titleAngle": 0, "titleAlign": "right", "titleBaseline": "top", "titleX": 0, "titleY": 0}},
       "color": {"field": "s", "type": "nominal", "scale": {"domain": ["LME3个月铅", "LME3个月锌", "LME3个月锡(右)", "LME3个月镍(右)"], "range": ["#801626", "#7f7f7f", "#e3a672", "#dbb6ba"]},
                 "legend": {"orient": "none", "legendX": -28, "legendY": 184, "direction": "horizontal", "columns": 2, "title": "　", "titlePadding": 11, "symbolType": "stroke", "symbolSize": 400, "symbolStrokeWidth": 1.5, "labelOffset": 0, "padding": 2, "columnPadding": 26, "rowPadding": 3, "clipHeight": 9, "labelExpr": "datum.label + '⠀⠀⠀'"}}
      }},
     {"transform": [{"filter": "datum.s == 'LME3个月铅' || datum.s == 'LME3个月锌'"}],
      "mark": {"type": "line", "strokeWidth": 1.5, "interpolate": "monotone"},
      "encoding": {
       "x": {"field": "d", "type": "temporal"},
       "y": {"field": "v", "type": "quantitative", "scale": {"domain": [1500, 4000], "nice": false, "zero": false},
             "axis": {"orient": "left", "values": [1500,2000,2500,3000,3500,4000], "format": ",.0f", "title": "（美元/吨）", "titleAngle": 0, "titleAlign": "left", "titleBaseline": "top", "titleX": -3, "titleY": 0}},
       "color": {"field": "s", "type": "nominal"}
      }}
    ],
    "resolve": {"scale": {"y": "independent"}}},
   {"width": 245, "height": 3, "data": {"values": [{}]},
    "title": {"text": "资料来源：万得，中银证券", "orient": "bottom", "anchor": "start", "frame": "bounds", "offset": 3, "fontSize": 9, "fontStyle": "italic", "fontWeight": "normal", "dx": 3},
    "mark": {"type": "rule", "color": "#000", "strokeWidth": 1},
    "encoding": {"x": {"datum": -40, "type": "quantitative", "scale": {"domain": [0, 245], "nice": false, "zero": false}, "axis": null}, "x2": {"datum": 245}, "y": {"datum": 0, "type": "quantitative", "scale": {"domain": [0, 1]}, "axis": null}}}
  ]},
  {"spacing": 1, "resolve": {"scale": {"color": "independent"}, "legend": {"color": "independent"}}, "vconcat": [
   {"width": 253, "height": 1, "data": {"values": [{}]},
    "title": {"text": "图表 15.贵金属价格走势：金银", "anchor": "start", "frame": "bounds", "offset": 3, "fontSize": 11, "fontWeight": "bold", "dx": 3},
    "mark": {"type": "rule", "color": "#000", "strokeWidth": 1},
    "encoding": {"x": {"datum": -38, "type": "quantitative", "scale": {"domain": [0, 253], "nice": false, "zero": false}, "axis": null}, "x2": {"datum": 253}}},
   {"width": 220, "height": 176, "data": {"name": "p15"},
    "layer": [
     {"transform": [{"filter": "datum.s == 'COMEX 白银(右)'"}],
      "mark": {"type": "line", "strokeWidth": 1.5, "interpolate": "monotone"},
      "encoding": {
       "x": {"field": "d", "type": "temporal", "scale": {"type": "utc", "nice": false, "domain": [{"year": 2017, "month": 8, "date": 1, "utc": true}, {"year": 2018, "month": 11, "date": 30, "utc": true}]},
             "axis": {"tickCount": {"interval": "month", "step": 1}, "labelExpr": "utcmonth(datum.value) % 2 == 1 ? utcFormat(datum.value, '%y-%m') : ''", "labelOffset": 2, "labelFontSize": 9.5, "labelPadding": 2, "title": null, "labelFlush": false, "labelBound": false}},
       "y": {"field": "v", "type": "quantitative", "scale": {"domain": [0, 20], "nice": false, "zero": false},
             "axis": {"orient": "right", "values": [0,2,4,6,8,10,12,14,16,18,20], "format": "d", "labelPadding": 2, "title": "（美元/盎司）", "titleAngle": 0, "titleAlign": "right", "titleBaseline": "top", "titleX": -4, "titleY": 0}},
       "color": {"field": "s", "type": "nominal", "scale": {"domain": ["COMEX 黄金", "COMEX 白银(右)"], "range": ["#b01a2e", "#8c8c8c"]},
                 "legend": {"orient": "none", "legendX": -27, "legendY": 193, "direction": "horizontal", "title": "　", "titlePadding": 22, "symbolType": "stroke", "symbolSize": 400, "symbolStrokeWidth": 1.5, "labelOffset": 0, "padding": 4, "columnPadding": 4, "clipHeight": 9.5, "labelExpr": "datum.label + '⠀⠀⠀⠀⠀⠀'"}}
      }},
     {"transform": [{"filter": "datum.s == 'COMEX 黄金'"}],
      "mark": {"type": "line", "strokeWidth": 1.5, "interpolate": "monotone"},
      "encoding": {
       "x": {"field": "d", "type": "temporal"},
       "y": {"field": "v", "type": "quantitative", "scale": {"domain": [1100, 1400], "nice": false, "zero": false},
             "axis": {"orient": "left", "values": [1100,1150,1200,1250,1300,1350,1400], "format": ",.0f", "title": "（美元/盎司）", "titleAngle": 0, "titleAlign": "left", "titleBaseline": "top", "titleX": -2, "titleY": 0}},
       "color": {"field": "s", "type": "nominal"}
      }}
    ],
    "resolve": {"scale": {"y": "independent"}}},
   {"width": 253, "height": 2, "data": {"values": [{}]},
    "title": {"text": "资料来源：万得，中银证券", "orient": "bottom", "anchor": "start", "frame": "bounds", "offset": 3, "fontSize": 9, "fontStyle": "italic", "fontWeight": "normal", "dx": 3},
    "mark": {"type": "rule", "color": "#000", "strokeWidth": 1},
    "encoding": {"x": {"datum": -38, "type": "quantitative", "scale": {"domain": [0, 253], "nice": false, "zero": false}, "axis": null}, "x2": {"datum": 253}, "y": {"datum": 0, "type": "quantitative", "scale": {"domain": [0, 1]}, "axis": null}}}
  ]}
 ]}
]
}
